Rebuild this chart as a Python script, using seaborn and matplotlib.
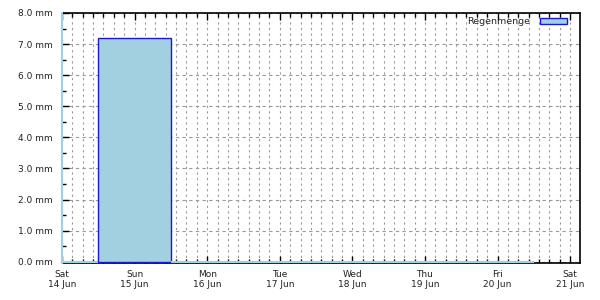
import matplotlib
matplotlib.use("Agg")
import matplotlib.pyplot as plt
from matplotlib.ticker import MultipleLocator, FixedLocator
from matplotlib.patches import Patch
import seaborn as sns
import pandas as pd

# Data: daily rain totals (mm); each bar spans previous day 12:00 -> day 12:00
day_offsets = [0, 1, 2, 3, 4, 5, 6]          # days since Sat 14 Jun 00:00
rain_mm = [0.0, 7.2, 0.0, 0.0, 0.0, 0.0, 0.0]
tick_labels = ["Sat\n14 Jun", "Sun\n15 Jun", "Mon\n16 Jun", "Tue\n17 Jun",
               "Wed\n18 Jun", "Thu\n19 Jun", "Fri\n20 Jun", "Sat\n21 Jun"]
series_name = "Regenmenge"

df = pd.DataFrame({"day": day_offsets, "rain": rain_mm})

sns.set_style("white")
plt.rcParams["font.family"] = ["DejaVu Sans"]

fig = plt.figure(figsize=(6, 3), dpi=100)
ax = fig.add_axes([62/600, 1-263/300, (580-62)/600, (263-13)/300])

fill = "#a2d0e0"
edge = "#1a1acc"
bins = [d - 0.5 for d in day_offsets] + [day_offsets[-1] + 0.5]
sns.histplot(data=df, x="day", weights="rain", bins=bins, ax=ax,
             color=fill, alpha=1.0, edgecolor=edge, linewidth=1.0,
             zorder=3)
for p in ax.patches:
    if p.get_height() == 0:
        p.set_edgecolor(fill)
        p.set_linewidth(1.5)

ax.set_xlim(0, 7.135)
ax.set_ylim(-0.04, 8)
ax.set_xlabel("")
ax.set_ylabel("")

ax.xaxis.set_major_locator(FixedLocator(list(range(8))))
ax.set_xticklabels(tick_labels)
ax.xaxis.set_minor_locator(MultipleLocator(1/7))
ax.set_yticks(range(9))
ax.set_yticklabels([f"{v:.1f} mm" for v in range(9)])
ax.yaxis.set_minor_locator(MultipleLocator(0.5))

ax.tick_params(axis="both", which="both", direction="in", labelsize=6.5,
               colors="black", labelcolor="#222222")
ax.tick_params(axis="x", which="major", length=5, width=1, top=True, bottom=True, pad=5)
ax.tick_params(axis="x", which="minor", length=3, width=1, top=True, bottom=True)
ax.tick_params(axis="y", which="major", length=5, width=1, left=True, right=False, pad=7)
ax.tick_params(axis="y", which="minor", length=3, width=1, left=True, right=False)

ax.grid(True, axis="y", which="major", color="#999999", linestyle=(0, (3, 3)), linewidth=0.8, zorder=0)
ax.grid(True, axis="x", which="both", color="#999999", linestyle=(0, (2, 3)), linewidth=0.8, zorder=0)
ax.set_axisbelow(True)

for s in ["top", "bottom", "right"]:
    ax.spines[s].set_color("black")
    ax.spines[s].set_linewidth(1.2)
ax.spines["left"].set_color(fill)
ax.spines["left"].set_linewidth(1.5)
ax.spines["left"].set_zorder(6)

handle = Patch(facecolor=fill, edgecolor=edge, linewidth=1.0, label=series_name)
ax.legend(handles=[handle], loc="upper right", frameon=False, fontsize=6.8,
          markerfirst=False, handlelength=2.9, handleheight=0.6,
          borderaxespad=0, borderpad=0, handletextpad=1.0,
          bbox_to_anchor=(567/600, 1-17.5/300), bbox_transform=fig.transFigure)

fig.savefig("out.png", dpi=100)
